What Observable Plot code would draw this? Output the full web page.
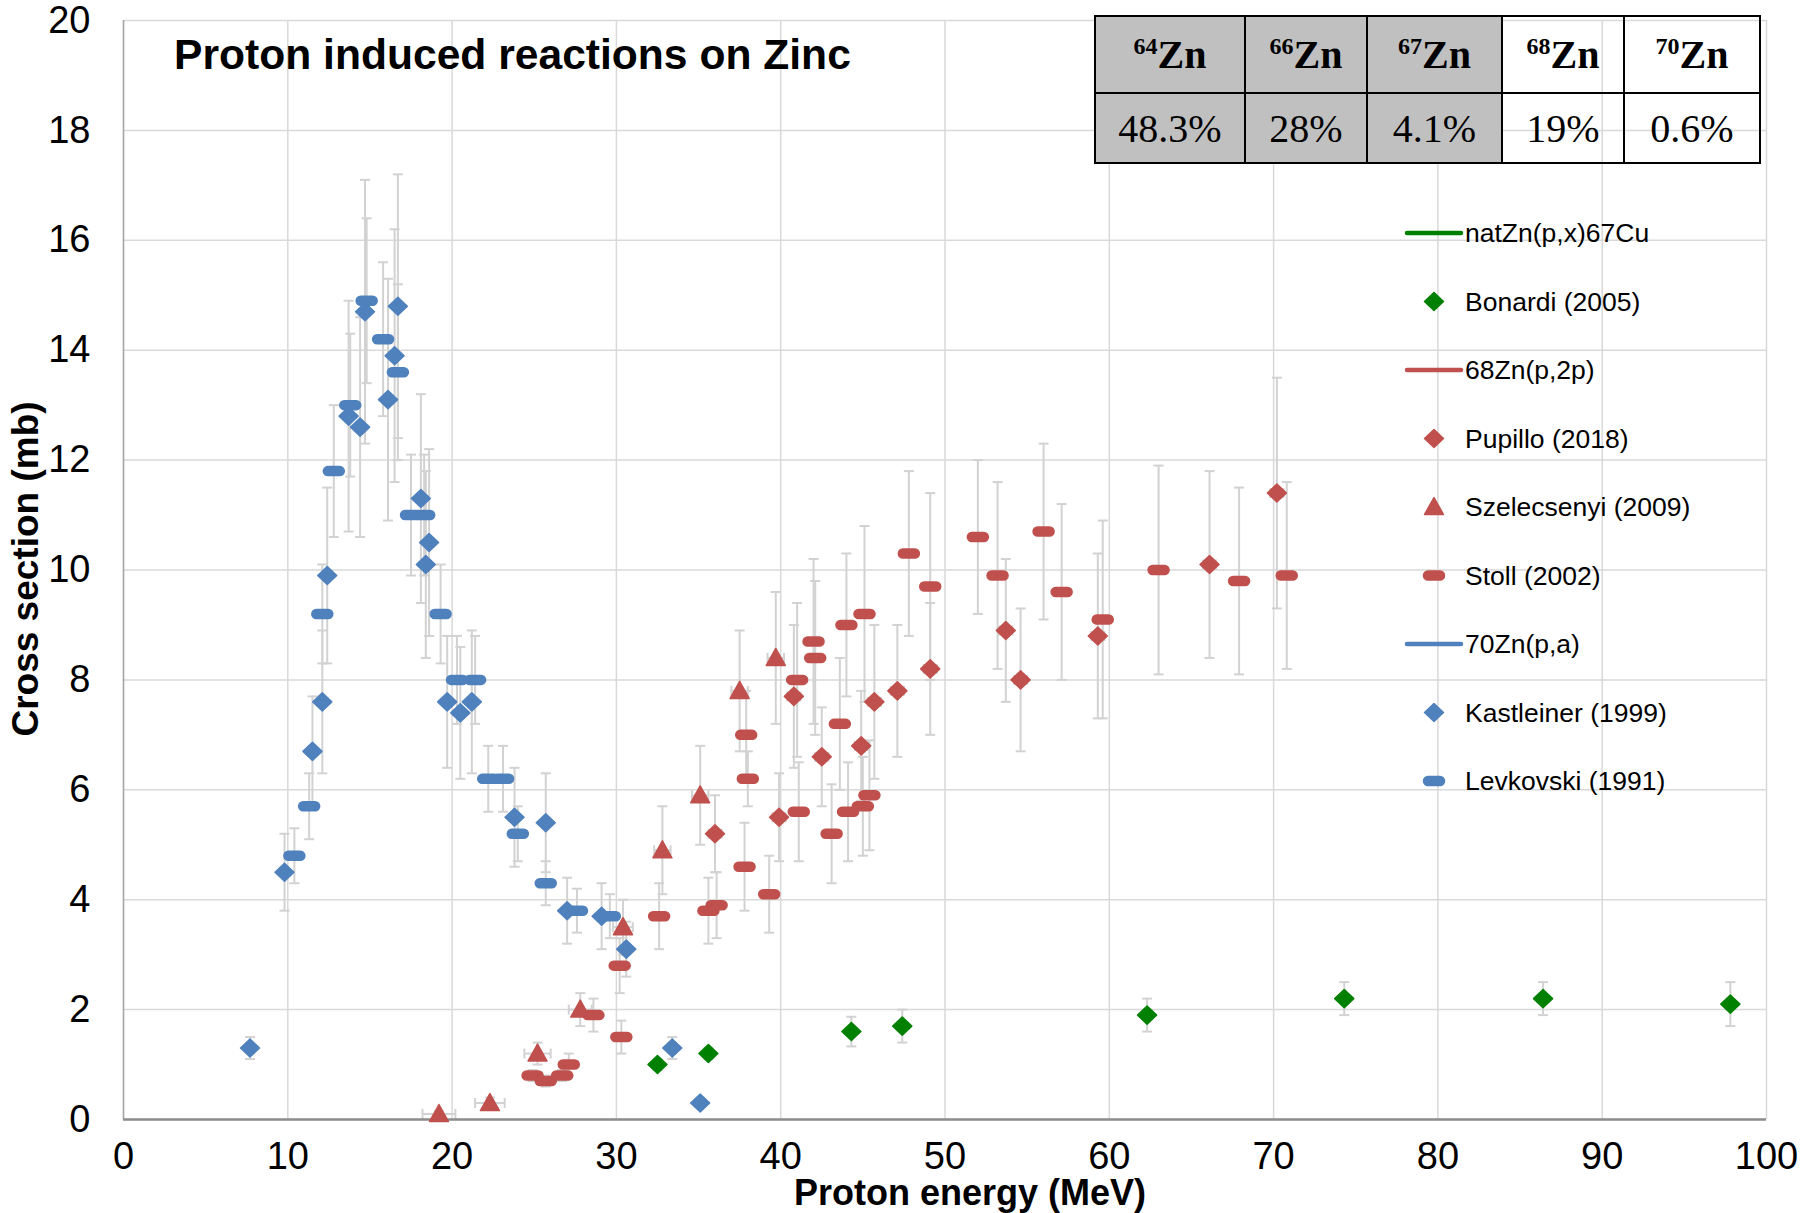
<!DOCTYPE html>
<html><head><meta charset="utf-8">
<script src="https://cdn.jsdelivr.net/npm/d3@7"></script>
<script src="https://cdn.jsdelivr.net/npm/@observablehq/plot@0.6"></script>
<style>
body{margin:0;background:#fff;}
#wrap{position:relative;width:1816px;height:1213px;overflow:hidden;}
#tbl{position:absolute;left:1094px;top:15px;border-collapse:collapse;table-layout:fixed;font-family:"Liberation Serif","Times New Roman",serif;color:#000;}
#tbl td{border:2.5px solid #000;text-align:center;padding:0;overflow:hidden;white-space:nowrap;}
#tbl tr.h td{height:75px;font-size:40px;font-weight:bold;}
#tbl tr.v td{height:68px;font-size:40px;}
#tbl sup{font-size:24px;vertical-align:14px;line-height:0;}
#tbl td.g{background:#c0c0c0;}
</style></head><body><div id="wrap"></div>
<script>
// ---------- axis ticks / labels ----------
const xTicks = [0,10,20,30,40,50,60,70,80,90,100];
const yTicks = [0,2,4,6,8,10,12,14,16,18,20];
const titleText = "Proton induced reactions on Zinc";
const xLabel = "Proton energy (MeV)";
const yLabel = "Cross section (mb)";
const legendLabels = ["natZn(p,x)67Cu","Bonardi (2005)","68Zn(p,2p)","Pupillo (2018)","Szelecsenyi (2009)","Stoll (2002)","70Zn(p,a)","Kastleiner (1999)","Levkovski (1991)"];
const isotopes = ["64","66","67","68","70"];
const abundances = ["48.3%","28%","4.1%","19%","0.6%"];

// ---------- natZn(p,x)67Cu ----------
const bonardiE   = [32.5,35.6,44.3,47.4,62.3,74.3,86.4,97.8];
const bonardiXS  = [1.0,1.2,1.6,1.7,1.9,2.2,2.2,2.1];
const bonardiErr = [0.1,0.1,0.27,0.3,0.3,0.3,0.3,0.4];

// ---------- 68Zn(p,2p) ----------
const pupilloE   = [36.0,39.9,40.8,42.5,44.9,45.7,47.1,49.1,53.7,54.6,59.3,66.1,70.2];
const pupilloXS  = [5.2,5.5,7.7,6.6,6.8,7.6,7.8,8.2,8.9,8.0,8.8,10.1,11.4];
const pupilloErr = [0.7,0.8,1.3,0.9,1.0,1.4,1.2,1.2,1.3,1.3,1.5,1.7,2.1];
const pupilloEErr= [0.4,0.4,0.4,0.4,0.4,0.4,0.4,0.4,0.4,0.4,0.4,0.4,0.4];

const szelE   = [19.2,22.3,25.2,27.8,30.4,32.8,35.1,37.5,39.7];
const szelXS  = [0.1,0.3,1.2,2.0,3.5,4.9,5.9,7.8,8.4];
const szelErr = [0.05,0.1,0.2,0.3,0.5,0.8,0.9,1.1,1.2];
const szelEErr= [1.0,0.9,0.8,0.7,0.6,0.5,0.5,0.5,0.5];

const stollE   = [24.9,25.7,26.7,27.1,28.6,30.2,30.3,32.6,35.6,36.1,37.8,37.9,38.0,39.3,41.0,41.1,42.0,42.1,43.1,43.6,44.0,44.1,45.0,45.1,45.4,47.8,49.1,52.0,53.2,56.0,57.1,59.6,63.0,67.9,70.8];
const stollXS  = [0.8,0.7,0.8,1.0,1.9,2.8,1.5,3.7,3.8,3.9,4.6,7.0,6.2,4.1,8.0,5.6,8.7,8.4,5.2,7.2,9.0,5.6,5.7,9.2,5.9,10.3,9.7,10.6,9.9,10.7,9.6,9.1,10.0,9.8,9.9];
const stollErr = [0.1,0.1,0.1,0.2,0.3,0.5,0.3,0.6,0.6,0.6,0.8,0.8,0.5,0.7,1.4,0.9,1.5,1.4,0.9,1.2,1.3,0.9,0.9,1.6,1.0,1.5,1.7,1.4,1.7,1.6,1.6,1.8,1.9,1.7,1.7];

// ---------- 70Zn(p,a) ----------
const kastE   = [7.7,9.8,11.5,12.1,12.4,13.7,14.4,14.7,16.1,16.5,16.7,18.1,18.4,18.6,19.7,20.5,21.2,23.8,25.7,27.0,29.1,30.6,33.4,35.1];
const kastXS  = [1.3,4.5,6.7,7.6,9.9,12.8,12.6,14.7,13.1,13.9,14.8,11.3,10.1,10.5,7.6,7.4,7.6,5.5,5.4,3.8,3.7,3.1,1.3,0.3];
const kastErr = [0.2,0.7,1.0,1.3,1.6,2.1,2.0,2.4,2.2,2.3,2.4,1.9,1.7,1.7,1.2,1.2,1.3,0.9,0.9,0.6,0.6,0.5,0.2,0.05];

const levE   = [10.4,11.3,12.1,12.8,13.8,14.8,15.8,16.7,17.5,18.3,19.3,20.3,21.4,22.2,23.1,24.0,25.7,27.6,29.6];
const levXS  = [4.8,5.7,9.2,11.8,13.0,14.9,14.2,13.6,11.0,11.0,9.2,8.0,8.0,6.2,6.2,5.2,4.3,3.8,3.7];
const levErr = [0.5,0.6,0.9,1.2,1.3,1.5,1.4,1.6,1.1,1.1,0.9,0.8,0.8,0.6,0.6,0.5,0.4,0.4,0.4];

// ---------- build tables ----------
function rows(E, XS, ERR, EERR) {
  return E.map((e, i) => ({e, y: XS[i], err: ERR[i], xerr: EERR ? EERR[i] : 0}));
}
const bonardi = rows(bonardiE, bonardiXS, bonardiErr);
const pupillo = rows(pupilloE, pupilloXS, pupilloErr, pupilloEErr);
const szel = rows(szelE, szelXS, szelErr, szelEErr);
const stoll = rows(stollE, stollXS, stollErr);
const kast = rows(kastE, kastXS, kastErr);
const lev = rows(levE, levXS, levErr);

const GREEN = "#008000", RED = "#c0504d", BLUE = "#4f81bd", GRID = "#d9d9d9", ERRC = "#d2d2d2";

// ---------- symbols ----------
const diamondSym = {draw(c){ c.moveTo(0,-9); c.lineTo(9.5,0); c.lineTo(0,9); c.lineTo(-9.5,0); c.closePath(); }};
const triSym = {draw(c){ c.moveTo(0,-9.5); c.lineTo(9.5,7.5); c.lineTo(-9.5,7.5); c.closePath(); }};
const dashSym = {draw(c){ const w=10.5,h=4.5; c.moveTo(-w+h,-h); c.lineTo(w-h,-h); c.arc(w-h,0,h,-Math.PI/2,Math.PI/2); c.lineTo(-w+h,h); c.arc(-w+h,0,h,Math.PI/2,3*Math.PI/2); c.closePath(); }};
const hCap = {draw(c){ c.moveTo(-5,0); c.lineTo(5,0); }};
const vCap = {draw(c){ c.moveTo(0,-5); c.lineTo(0,5); }};

function errMarks(data, withX) {
  const m = [
    Plot.ruleX(data, {x: "e", y1: d => d.y - d.err, y2: d => d.y + d.err, stroke: ERRC, strokeWidth: 2}),
    Plot.dot(data, {x: "e", y: d => d.y + d.err, symbol: hCap, fill: "none", stroke: ERRC, strokeWidth: 2}),
    Plot.dot(data, {x: "e", y: d => d.y - d.err, symbol: hCap, fill: "none", stroke: ERRC, strokeWidth: 2})
  ];
  if (withX) {
    m.push(
      Plot.ruleY(data, {y: "y", x1: d => d.e - d.xerr, x2: d => d.e + d.xerr, stroke: ERRC, strokeWidth: 2}),
      Plot.dot(data, {x: d => d.e - d.xerr, y: "y", symbol: vCap, fill: "none", stroke: ERRC, strokeWidth: 2}),
      Plot.dot(data, {x: d => d.e + d.xerr, y: "y", symbol: vCap, fill: "none", stroke: ERRC, strokeWidth: 2})
    );
  }
  return m;
}
function pts(data, sym, color) {
  return Plot.dot(data, {x: "e", y: "y", symbol: sym, fill: color, stroke: color, strokeWidth: 1.5, strokeLinejoin: "round"});
}

const chart = Plot.plot({
  width: 1816, height: 1213,
  marginLeft: 123, marginRight: 50, marginTop: 20, marginBottom: 94,
  x: {domain: [0, 100]},
  y: {domain: [0, 20]},
  style: {fontFamily: "'Liberation Sans', Arial, sans-serif", fontSize: "38px", color: "#000", background: "#fff"},
  marks: [
    Plot.gridX(xTicks, {stroke: GRID, strokeOpacity: 1, strokeWidth: 1.5}),
    Plot.gridY(yTicks, {stroke: GRID, strokeOpacity: 1, strokeWidth: 1.5}),
    Plot.ruleX([0], {stroke: "#a6a6a6", strokeWidth: 1.5}),
    Plot.axisX(xTicks, {tickSize: 0, tickPadding: 23, fontSize: 38, label: null, tickFormat: d => String(d)}),
    Plot.axisY(yTicks, {tickSize: 0, tickPadding: 33, fontSize: 38, label: null, tickFormat: d => String(d)}),
    ...errMarks(kast), ...errMarks(lev),
    ...errMarks(stoll), ...errMarks(szel, true), ...errMarks(pupillo, true),
    ...errMarks(bonardi),
    Plot.ruleY([0], {stroke: "#8c8c8c", strokeWidth: 2.5}),
    pts(kast, diamondSym, BLUE),
    pts(lev, dashSym, BLUE),
    pts(stoll, dashSym, RED),
    pts(szel, triSym, RED),
    pts(pupillo, diamondSym, RED),
    pts(bonardi, diamondSym, GREEN)
  ]
});

const wrap = document.getElementById("wrap");
wrap.appendChild(chart);
const svg = d3.select(chart);

// title
svg.append("text").attr("x", 174).attr("y", 69).attr("text-anchor", "start")
  .attr("font-size", 42.6).attr("font-weight", "bold").attr("fill", "#000")
  .text(titleText);
// axis titles
svg.append("text").attr("x", 970).attr("y", 1205).attr("text-anchor", "middle")
  .attr("font-size", 36).attr("font-weight", "bold").text(xLabel);
svg.append("text").attr("transform", "translate(38,569) rotate(-90)").attr("text-anchor", "middle")
  .attr("font-size", 37).attr("font-weight", "bold").text(yLabel);

// legend
const legendKinds = [
  {type: "line", color: GREEN}, {type: "sym", sym: diamondSym, color: GREEN},
  {type: "line", color: RED}, {type: "sym", sym: diamondSym, color: RED},
  {type: "sym", sym: triSym, color: RED}, {type: "sym", sym: dashSym, color: RED},
  {type: "line", color: BLUE}, {type: "sym", sym: diamondSym, color: BLUE},
  {type: "sym", sym: dashSym, color: BLUE}
];
const lg = svg.append("g");
legendLabels.forEach((lab, i) => {
  const y = 233 + i * 68.5;
  const k = legendKinds[i];
  if (k.type === "line") {
    lg.append("line").attr("x1", 1407).attr("x2", 1461).attr("y1", y).attr("y2", y)
      .attr("stroke", k.color).attr("stroke-width", 4.5).attr("stroke-linecap", "round");
  } else {
    const p = d3.path(); k.sym.draw(p, 1);
    lg.append("path").attr("d", p.toString()).attr("transform", `translate(1434,${y})`)
      .attr("fill", k.color).attr("stroke", k.color).attr("stroke-width", 1.5).attr("stroke-linejoin", "round");
  }
  lg.append("text").attr("x", 1465).attr("y", y).attr("dy", "0.35em").attr("text-anchor", "start")
    .attr("font-size", 26.5).attr("fill", "#000").text(lab);
});

// isotope table
const widths = [148, 120, 133, 120, 134];
const tbl = document.createElement("table");
tbl.id = "tbl";
tbl.style.width = widths.reduce((a, b) => a + b, 0) + "px";
const trH = document.createElement("tr"); trH.className = "h";
const trV = document.createElement("tr"); trV.className = "v";
isotopes.forEach((iso, i) => {
  const th = document.createElement("td");
  th.style.width = widths[i] + "px";
  if (i < 3) th.className = "g";
  th.innerHTML = `<sup>${iso}</sup>Zn`;
  trH.appendChild(th);
  const tv = document.createElement("td");
  if (i < 3) tv.className = "g";
  tv.textContent = abundances[i];
  trV.appendChild(tv);
});
tbl.appendChild(trH); tbl.appendChild(trV);
wrap.appendChild(tbl);
</script></body></html>
